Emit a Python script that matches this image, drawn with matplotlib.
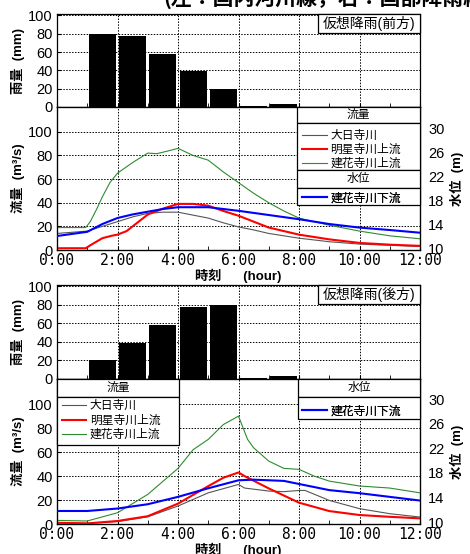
import matplotlib
matplotlib.use("Agg")
import matplotlib.pyplot as plt
from matplotlib.patches import Rectangle
from matplotlib.ticker import MultipleLocator

plt.rcParams['font.family'] = ['Liberation Sans', 'Noto Sans CJK JP', 'DejaVu Sans']

# ---------------- data ----------------
rain_hours = [0.5, 1.5, 2.5, 3.5, 4.5, 5.5, 6.5, 7.5]
rain_front = [0, 80, 77, 58, 39, 20, 0.6, 3]
rain_back = [0, 20, 39, 58, 78, 80, 0.6, 3]

# front (前方) scenario
f_t_gray = [0, 1, 1.5, 2, 2.5, 3, 3.5, 4, 4.5, 5, 5.5, 6, 6.5, 7, 8, 9, 10, 11, 12]
f_gray = [14, 16, 20, 24, 28, 31, 32, 32, 29.5, 27, 23, 19.5, 17, 14, 10, 7, 5, 4, 3]
f_t_red = [0, 0.95, 1.1, 1.3, 1.5, 1.8, 2.0, 2.3, 2.5, 2.8, 3.0, 3.5, 4.0, 4.5, 5.0, 5.5, 6.0, 6.5, 7.0, 8.0, 9.0, 10, 11, 12]
f_red = [1.5, 1.5, 4, 7, 10, 12, 13, 16, 20, 26, 30, 35, 39, 39, 37.5, 33, 29, 24, 19, 13, 9, 6, 4.5, 3.5]
f_t_green = [0, 0.95, 1.1, 1.3, 1.5, 1.75, 2.0, 2.5, 3.0, 3.3, 3.7, 4.0, 4.5, 5.0, 5.5, 6.0, 6.5, 7.0, 7.5, 8.0, 9.0, 10, 11, 12]
f_green = [19, 19, 24, 34, 45, 57, 65, 74, 82, 81.5, 84, 86, 80, 76, 66, 57, 48, 40, 33, 27, 21, 16, 12, 9.5]
f_t_blue = [0, 1, 1.5, 2, 2.5, 3, 3.5, 4, 5, 6, 7, 8, 9, 10, 11, 12]
f_blue = [12.0, 12.7, 14.0, 15.0, 15.6, 16.05, 16.5, 16.8, 16.8, 16.2, 15.5, 14.8, 14.0, 13.4, 13.0, 12.55]

# back (後方) scenario
b_t_gray = [0, 1, 2, 3, 4, 5, 6, 6.2, 7, 7.5, 8, 8.2, 9, 10, 11, 12]
b_gray = [1, 0.5, 2, 6, 15, 26, 33, 30, 27.5, 27, 28, 28, 19.7, 12.8, 8.6, 5.8]
b_t_red = [0, 1, 2, 3, 4, 5, 5.5, 6, 6.2, 7, 8, 9, 10, 11, 12]
b_red = [1, 0.5, 2.5, 6.5, 17, 31.6, 38.6, 43, 40, 29.7, 17.8, 10.8, 7.5, 6, 4.7]
b_t_green = [0, 1, 2, 3, 4, 4.5, 5, 5.5, 6, 6.3, 6.5, 7, 7.5, 8, 8.5, 9, 10, 11, 12]
b_green = [3, 2.5, 9.4, 24.7, 46.4, 62, 70.6, 83, 90, 70.6, 63.6, 52.5, 46.4, 45.6, 40, 35.8, 31.7, 30, 26]
b_t_blue = [0, 1, 2, 3, 4, 5, 6, 6.5, 7, 7.5, 8, 9, 10, 11, 12]
b_blue = [11.8, 11.8, 12.2, 12.9, 14.1, 15.5, 16.8, 16.9, 16.8, 16.7, 16.2, 15.2, 14.7, 14.1, 13.5]

x_ticks = [0, 2, 4, 6, 8, 10, 12]
x_labels = ['0:00', '2:00', '4:00', '6:00', '8:00', '10:00', '12:00']

names = ['大日寺川', '明星寺川上流', '建花寺川上流']
wl_name = '建花寺川下流'

W, H = 470, 554
fig = plt.figure(figsize=(W / 100, H / 100), dpi=100)

def fx(px):
    return px / W

def fy(py):
    return 1 - py / H

L, R = 57, 420
tick_fs = 10.5
leg_fs = 8.5
grid_kw = dict(color='black', linestyle=(0, (1.5, 1.5)), linewidth=0.7)

def style_axis(ax):
    ax.tick_params(direction='in', length=3, width=0.8, labelsize=tick_fs, pad=3)
    for s in ax.spines.values():
        s.set_linewidth(0.9)

def box(ax, x0, y0, x1, y1):
    ax.add_patch(Rectangle((x0, y0), x1 - x0, y1 - y0, transform=ax.transAxes,
                           facecolor='white', edgecolor='black', linewidth=0.9,
                           zorder=5, clip_on=False))

def rain_panel(top, bottom, values, label):
    ax = fig.add_axes([fx(L), fy(bottom), fx(R - L), (bottom - top) / H])
    ax.bar(rain_hours, values, width=0.9, color='black', zorder=3)
    ax.set_xlim(0, 12)
    ax.set_ylim(0, 101.5)
    ax.set_xticks(x_ticks)
    ax.xaxis.set_minor_locator(MultipleLocator(1))
    ax.set_xticklabels([])
    ax.set_yticks([0, 20, 40, 60, 80, 100])
    ax.grid(True, **grid_kw)
    ax.set_axisbelow(True)
    style_axis(ax)
    ax.tick_params(axis='x', which='both', direction='in', length=3)
    ax.set_ylabel('雨量  (mm)', fontsize=9.5, fontweight='bold', labelpad=2)
    box(ax, 0.72, 0.795, 1.0, 1.0)
    ax.text(0.86, 0.895, label, transform=ax.transAxes, ha='center', va='center',
            fontsize=10, zorder=6)
    return ax

def flow_panel(top, bottom, tg, g, tr, r, tgr, gr, tb, b, rlim):
    ax = fig.add_axes([fx(L), fy(bottom), fx(R - L), (bottom - top) / H])
    l1, = ax.plot(tg, g, color='#555555', lw=0.8, zorder=3)
    l2, = ax.plot(tr, r, color='#ff0000', lw=1.5, zorder=3)
    l3, = ax.plot(tgr, gr, color='#2e8b2e', lw=0.8, zorder=3)
    ax.set_xlim(0, 12)
    ax.set_ylim(0, 121)
    ax.set_xticks(x_ticks)
    ax.set_xticklabels(x_labels, family=['DejaVu Sans Mono'], fontsize=10.5)
    ax.xaxis.set_minor_locator(MultipleLocator(1))
    ax.set_yticks([0, 20, 40, 60, 80, 100])
    ax.grid(True, **grid_kw)
    ax.set_axisbelow(True)
    style_axis(ax)
    ax.tick_params(axis='x', which='both', direction='in', length=3, pad=2)
    ax.set_ylabel('流量  (m³/s)', fontsize=9.5, fontweight='bold', labelpad=2)
    ax.set_xlabel('時刻      (hour)', fontsize=9.5, fontweight='bold', labelpad=1)
    ax2 = ax.twinx()
    l4, = ax2.plot(tb, b, color='#0000ff', lw=1.5, zorder=3)
    ax2.set_ylim(*rlim)
    ax2.set_yticks([10, 14, 18, 22, 26, 30])
    ax2.tick_params(direction='in', length=0, labelsize=tick_fs, pad=6)
    ax2.set_ylabel('水位  (m)', fontsize=9.5, fontweight='bold', labelpad=4)
    return ax, ax2, [l1, l2, l3], l4

def legend(ax2, handles, labels, anchor, spacing):
    lg = ax2.legend(handles, labels, loc='upper left', bbox_to_anchor=anchor, frameon=False,
                    fontsize=leg_fs, handlelength=2.1, handletextpad=0.3, labelspacing=spacing,
                    borderpad=0.2, borderaxespad=0)
    lg.set_zorder(7)
    ax2.add_artist(lg)
    return lg

# ---------- panel 1 (front) ----------
rain_panel(14, 107, rain_front, '仮想降雨(前方)')
ax, ax2, lines, wl = flow_panel(107, 250, f_t_gray, f_gray, f_t_red, f_red,
                                f_t_green, f_green, f_t_blue, f_blue, (9.67, 33.5))
box(ax2, 0.661, 0.888, 1.0, 1.0)
ax2.text(0.83, 0.944, '流量', transform=ax2.transAxes, ha='center', va='center', fontsize=leg_fs, zorder=6)
box(ax2, 0.661, 0.559, 1.0, 0.888)
box(ax2, 0.661, 0.434, 1.0, 0.559)
ax2.text(0.83, 0.4965, '水位', transform=ax2.transAxes, ha='center', va='center', fontsize=leg_fs, zorder=6)
box(ax2, 0.661, 0.315, 1.0, 0.434)
legend(ax2, lines, names, (0.669, 0.853), 0.14)
legend(ax2, [wl], [wl_name], (0.669, 0.42), 0.14)

# ---------- panel 2 (back) ----------
rain_panel(285, 379, rain_back, '仮想降雨(後方)')
ax, ax2, lines, wl = flow_panel(379, 524, b_t_gray, b_gray, b_t_red, b_red,
                                b_t_green, b_green, b_t_blue, b_blue, (9.68, 33.3))
box(ax2, 0.0, 0.876, 0.336, 1.0)
ax2.text(0.168, 0.938, '流量', transform=ax2.transAxes, ha='center', va='center', fontsize=leg_fs, zorder=6)
box(ax2, 0.0, 0.545, 0.336, 0.876)
box(ax2, 0.664, 0.876, 1.0, 1.0)
ax2.text(0.832, 0.938, '水位', transform=ax2.transAxes, ha='center', va='center', fontsize=leg_fs, zorder=6)
box(ax2, 0.664, 0.724, 1.0, 0.876)
legend(ax2, lines, names, (0.006, 0.869), 0.2)
legend(ax2, [wl], [wl_name], (0.669, 0.834), 0.2)

# heading, clipped by the top edge as in the source image
fig.text(fx(163), fy(5), '(左：国内河川線，右：国部降雨線', fontsize=15, fontweight='bold',
         ha='left', va='baseline', family=['Noto Sans CJK JP', 'DejaVu Sans'])

fig.savefig('out.png', dpi=100)
